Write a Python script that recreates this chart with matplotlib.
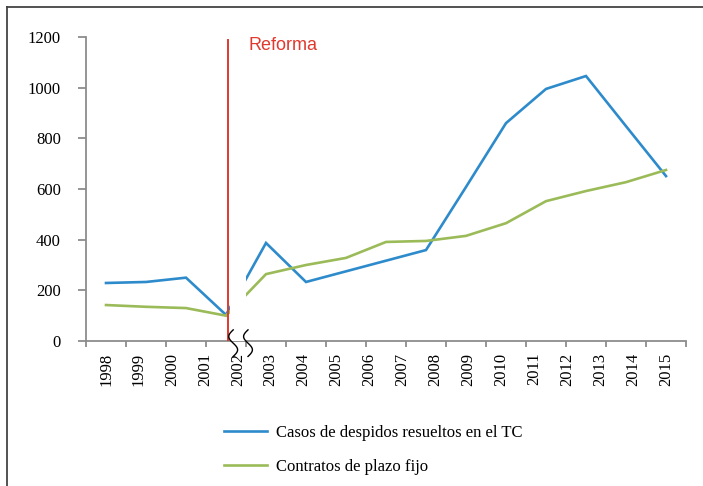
import numpy as np
import matplotlib
matplotlib.use("Agg")
import matplotlib.pyplot as plt
from matplotlib.lines import Line2D
from matplotlib.patches import Rectangle

# ---- data ----
years = [str(y) for y in range(1998, 2016)]
despidos = [229, 233, 250, 103, 387, 233, 275, 317, 359, 608, 860, 995, 1046, 848, 651]
contratos = [142, 135, 130, 100, 264, 300, 328, 391, 395, 415, 465, 552, 592, 627, 675]
series_labels = ["Casos de despidos resueltos en el TC", "Contratos de plazo fijo"]
reforma_label = "Reforma"
reforma_pos = 3.06
reforma_top = 1188
yticks = [0, 200, 400, 600, 800, 1000, 1200]

W, H = 703, 486
fig = plt.figure(figsize=(W / 100, H / 100), dpi=100)
fig.patch.set_facecolor("white")

serif = ["Liberation Serif", "DejaVu Serif"]
sans = ["Liberation Sans", "DejaVu Sans"]

ax = fig.add_axes([86 / W, (H - 341) / H, 600 / W, 304 / H])
x = np.arange(len(despidos))
blue = "#2E8BCB"
green = "#9BBB59"
ax.plot(x, despidos, color=blue, lw=1.9, solid_joinstyle="miter", zorder=3)
ax.plot(x, contratos, color=green, lw=1.9, solid_joinstyle="miter", zorder=3)

n = len(despidos)
ax.set_xlim(-0.5, n - 0.5)
ax.set_ylim(0, 1200)

# white gap (axis break) between the reform line and the next category
ax.add_patch(Rectangle((reforma_pos + 0.04, 0.5), 3.5 - reforma_pos - 0.04, 1250,
                       facecolor="white", edgecolor="none", zorder=4, clip_on=False))
# reform line
ax.plot([reforma_pos, reforma_pos], [0, reforma_top], color="#E0392E", lw=1.4, zorder=5)
ax.text(reforma_pos + 0.5, 1165, reforma_label, color="#E0392E", fontsize=13,
        family=sans, va="center", ha="left")

# break squiggles
t = np.linspace(0, 1, 80)
for xb in (reforma_pos + 0.12, 3.55):
    xs = xb + 0.11 * np.sin(2 * np.pi * t + np.pi)
    ys = 44 - t * 105
    ax.plot(xs, ys, color="black", lw=1.0, zorder=6, clip_on=False)

# axes styling
for s in ("top", "right"):
    ax.spines[s].set_visible(False)
for s in ("left", "bottom"):
    ax.spines[s].set_color("#8c8c8c")
    ax.spines[s].set_linewidth(1.3)

ax.set_yticks(yticks)
ax.set_yticklabels([str(v) for v in yticks], family=serif, fontsize=12)
ax.tick_params(axis="y", direction="out", length=6, width=1.3, color="#8c8c8c", pad=12)

ax.set_xticks(np.arange(-0.5, n, 1.0))
ax.set_xticklabels([])
ax.tick_params(axis="x", which="major", direction="out", length=4, width=1.3, color="#8c8c8c")
ax.set_xticks(np.linspace(0, n - 1, len(years)), minor=True)
ax.set_xticklabels(years, minor=True, rotation=90, family=serif, fontsize=12)
ax.tick_params(axis="x", which="minor", length=0, pad=8.5)

# legend
handles = [Line2D([], [], color=blue, lw=1.9), Line2D([], [], color=green, lw=1.9)]
leg = fig.legend(handles, series_labels, loc="upper left",
                 bbox_to_anchor=(224 / W, (H - 425) / H), frameon=False,
                 prop={"family": serif, "size": 12}, handlelength=2.6,
                 handletextpad=0.5, labelspacing=1.05, borderpad=0, borderaxespad=0)

# frame around figure (top and left visible)
fig.add_artist(Line2D([6.5 / W, 6.5 / W], [0, (H - 7) / H], color="#444444", lw=1.3,
                      transform=fig.transFigure))
fig.add_artist(Line2D([6.5 / W, 1], [(H - 7) / H, (H - 7) / H], color="#444444", lw=1.3,
                      transform=fig.transFigure))

fig.savefig("out.png", dpi=100)
